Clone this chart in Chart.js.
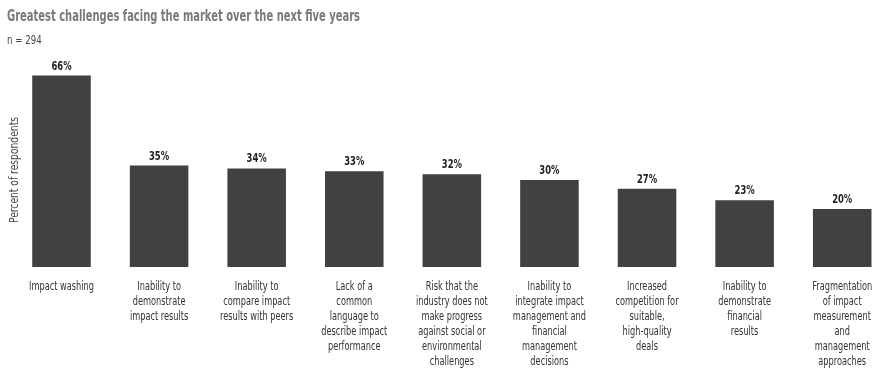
<!DOCTYPE html>
<html lang="en">
<head>
    <meta charset="UTF-8">
    <title>Greatest challenges</title>
    <style>
        html, body { margin: 0; padding: 0; background: #fff; overflow: hidden; }
        #chart-container { position: relative; width: 891px; height: 368px; }
    </style>
</head>
<body>
    <div id="chart-container">
        <canvas id="myChart"></canvas>
    </div>
    <script src="https://cdn.jsdelivr.net/npm/chart.js"></script>
    <script>
        // Data
        const titleText = 'Greatest challenges facing the market over the next five years';
        const sampleText = 'n = 294';
        const yTitle = 'Percent of respondents';
        const categories = [
            ['Impact washing'],
            ['Inability to', 'demonstrate', 'impact results'],
            ['Inability to', 'compare impact', 'results with peers'],
            ['Lack of a', 'common', 'language to', 'describe impact', 'performance'],
            ['Risk that the', 'industry does not', 'make progress', 'against social or', 'environmental', 'challenges'],
            ['Inability to', 'integrate impact', 'management and', 'financial', 'management', 'decisions'],
            ['Increased', 'competition for', 'suitable,', 'high-quality', 'deals'],
            ['Inability to', 'demonstrate', 'financial', 'results'],
            ['Fragmentation', 'of impact', 'measurement', 'and', 'management', 'approaches']
        ];
        const values = [66, 35, 34, 33, 32, 30, 27, 23, 20];

        const FONT = '"DejaVu Sans Condensed", "DejaVu Sans", sans-serif';

        // the reference uses a narrow DIN-like face: squeeze text horizontally
        function narrowText(ctx, text, x, y, sx, align) {
            ctx.save();
            ctx.translate(x, y);
            ctx.scale(sx, 1);
            ctx.textAlign = align;
            ctx.fillText(text, 0, 0);
            ctx.restore();
        }

        const textPlugin = {
            id: 'texts',
            afterDatasetsDraw(chart) {
                const ctx = chart.ctx;
                ctx.save();
                ctx.textBaseline = 'alphabetic';

                // title + sample size
                ctx.fillStyle = '#7a7a7a';
                ctx.font = 'bold 15px ' + FONT;
                narrowText(ctx, titleText, 7, 21, 353 / ctx.measureText(titleText).width, 'left');
                ctx.fillStyle = '#444';
                ctx.font = '12px ' + FONT;
                narrowText(ctx, sampleText, 7, 44, 0.8, 'left');

                // y title
                ctx.save();
                ctx.translate(18, 170);
                ctx.rotate(-Math.PI / 2);
                ctx.fillStyle = '#444';
                ctx.font = '13px ' + FONT;
                narrowText(ctx, yTitle, 0, 0, 106 / ctx.measureText(yTitle).width, 'center');
                ctx.restore();

                // value labels
                ctx.fillStyle = '#222';
                ctx.font = 'bold 13px ' + FONT;
                chart.getDatasetMeta(0).data.forEach((bar, i) => {
                    narrowText(ctx, values[i] + '%', bar.x, bar.y - 6, 0.72, 'center');
                });

                // category labels under the bars
                const xs = chart.scales.x;
                ctx.fillStyle = '#333';
                ctx.font = '13px ' + FONT;
                const sx = 65 / ctx.measureText('Impact washing').width;
                categories.forEach((lines, i) => {
                    const cx = xs.getPixelForValue(i);
                    lines.forEach((line, j) => {
                        narrowText(ctx, line, cx, xs.top + 23 + j * 15, sx, 'center');
                    });
                });
                ctx.restore();
            }
        };

        const ctx = document.getElementById('myChart').getContext('2d');
        new Chart(ctx, {
            type: 'bar',
            data: {
                labels: categories,
                datasets: [{
                    data: values,
                    backgroundColor: '#414141',
                    borderWidth: 0,
                    barPercentage: 0.6,
                    categoryPercentage: 1
                }]
            },
            options: {
                responsive: true,
                maintainAspectRatio: false,
                animation: false,
                layout: { padding: { left: 12.7, right: 0, top: 35, bottom: 0 } },
                plugins: {
                    legend: { display: false },
                    title: { display: false },
                    tooltip: { enabled: false }
                },
                scales: {
                    x: {
                        grid: { display: false, drawTicks: false },
                        border: { display: false },
                        ticks: { display: false },
                        afterFit(scale) { scale.height = 101; }
                    },
                    y: {
                        display: false,
                        min: 0,
                        max: 80
                    }
                }
            },
            plugins: [textPlugin]
        });
    </script>
</body>
</html>
